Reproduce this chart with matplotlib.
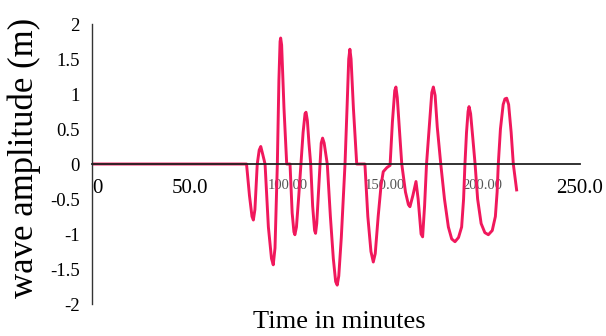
import matplotlib
matplotlib.use("Agg")
import matplotlib.pyplot as plt

# wave record: time (minutes) vs amplitude (m)
time_min = [0, 79.0, 80.5, 81.8, 82.5, 83.3, 84.5, 85.5, 86.3, 87.2, 88.5,
            90.2, 91.8, 92.7, 93.6, 94.8,
            95.6, 96.2, 96.5, 97.0, 98.2, 99.6, 101.3,
            102.4, 103.3, 103.8, 104.6, 105.8, 106.9,
            108.0, 109.0, 109.5, 110.2, 111.0, 111.9,
            112.9, 113.9, 114.4, 115.0, 116.0, 116.7,
            117.3, 118.0, 118.8, 120.4,
            122.0, 123.5, 124.7, 125.5, 126.3, 127.6, 129.5,
            130.6, 131.4, 132.0, 132.6, 133.8, 135.5, 139.7,
            141.2, 142.8, 144.0, 145.0, 146.5, 148.0, 149.1, 151.0, 152.6,
            153.8, 155.0, 155.6, 156.3, 157.5, 158.6,
            160.5, 162.0, 162.8, 164.3, 165.9, 167.0, 168.5, 169.3, 170.3, 171.3,
            172.7, 174.0, 174.8, 175.7, 176.8, 178.6,
            180.5, 182.5, 184.2, 185.9, 187.7, 189.3, 190.3, 191.0,
            191.8, 192.6, 193.1, 193.9, 195.0, 196.2,
            197.5, 199.3, 201.2, 203.0, 205.0, 206.6, 207.5, 208.1,
            209.2, 210.6, 211.5, 212.4, 213.4, 214.7, 215.8, 217.5]
amplitude = [0, 0, -0.45, -0.75, -0.80, -0.65, 0.0, 0.20, 0.25, 0.15, 0.0,
             -0.90, -1.35, -1.44, -1.20, 0.0,
             1.20, 1.75, 1.80, 1.70, 0.80, 0.0, 0.0,
             -0.70, -0.97, -1.01, -0.90, -0.45, 0.0,
             0.45, 0.72, 0.74, 0.62, 0.30, 0.0,
             -0.60, -0.95, -0.99, -0.85, -0.35, 0.0,
             0.30, 0.37, 0.30, 0.0,
             -0.75, -1.35, -1.68, -1.73, -1.60, -1.05, 0.0,
             0.85, 1.50, 1.64, 1.50, 0.80, 0.0, 0.0,
             -0.75, -1.25, -1.40, -1.28, -0.75, -0.30, -0.11, -0.05, -0.02,
             0.60, 1.05, 1.10, 0.95, 0.45, 0.0,
             -0.40, -0.58, -0.61, -0.45, -0.25, -0.50, -1.00, -1.04, -0.60, 0.0,
             0.53, 1.02, 1.10, 0.98, 0.53, 0.0,
             -0.50, -0.90, -1.07, -1.11, -1.05, -0.90, -0.50, 0.0,
             0.45, 0.75, 0.82, 0.72, 0.38, 0.0,
             -0.50, -0.85, -0.98, -1.01, -0.95, -0.75, -0.40, 0.0,
             0.50, 0.85, 0.93, 0.94, 0.85, 0.45, 0.0, -0.37]

x_ticks = [0, 50, 100, 150, 200, 250]
x_labels = ["0", "50.0", "100.00", "150.00", "200.00", "250.0"]
y_ticks = [2, 1.5, 1, 0.5, 0, -0.5, -1, -1.5, -2]
y_labels = ["2", "1.5", "1", "0.5", "0", "-0.5", "-1", "-1.5", "-2"]

plt.rcParams["font.family"] = ["Liberation Serif", "DejaVu Serif"]

fig = plt.figure(figsize=(6.06, 3.36), dpi=100)
ax = fig.add_axes([0.1526, 0.0952, 0.8045, 0.8333])

ax.plot(time_min, amplitude, color="#F0185C", linewidth=2.1, zorder=2)

ax.set_xlim(0, 250)
ax.set_ylim(-2, 2)

for side in ("top", "right"):
    ax.spines[side].set_visible(False)
ax.spines["bottom"].set_position(("data", 0))
ax.spines["bottom"].set_color("#222222")
ax.spines["bottom"].set_linewidth(1.3)
ax.spines["bottom"].set_zorder(3)
ax.spines["left"].set_color("#333333")
ax.spines["left"].set_linewidth(1.0)

ax.set_xticks(x_ticks)
ax.set_xticklabels(x_labels)
ax.set_yticks(y_ticks)
ax.set_yticklabels(y_labels)
ax.tick_params(axis="both", length=0)
ax.tick_params(axis="x", pad=11)
ax.tick_params(axis="y", pad=9, labelsize=13.5)

for lab, txt in zip(ax.get_xticklabels(), x_labels):
    if txt.endswith(".00"):
        lab.set_fontsize(10.5)
        lab.set_color("#555555")
        lab.set_zorder(1)
    else:
        lab.set_fontsize(15)
ax.get_xticklabels()[0].set_horizontalalignment("left")

fig.text(0.56, 0.008, "Time in minutes", fontsize=19, ha="center", va="bottom")
fig.text(0.04, 0.53, "wave amplitude (m)", fontsize=25, rotation=90,
         ha="center", va="center")

fig.savefig("out.png", dpi=100)
